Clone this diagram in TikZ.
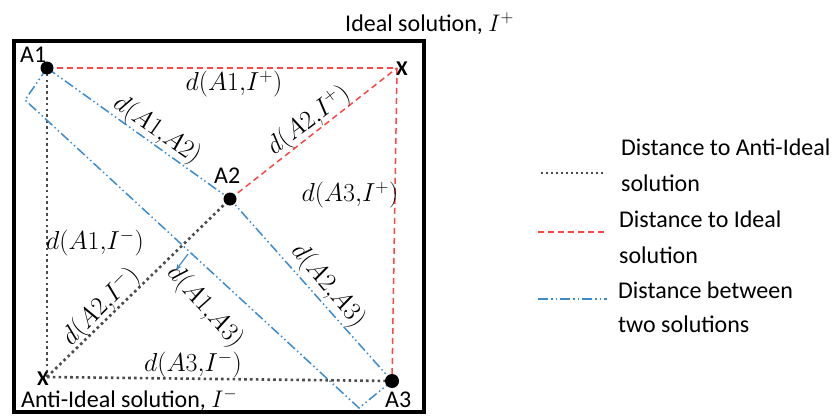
\RequirePackage{fix-cm}
\documentclass[tikz,border=0pt]{standalone}
\usepackage[no-math]{fontspec}
\setmainfont{Carlito}
\usetikzlibrary{arrows.meta}
\definecolor{idealred}{RGB}{255,70,70}
\definecolor{pairblue}{RGB}{60,140,205}
\definecolor{antigray}{RGB}{75,75,75}
\begin{document}
\begin{tikzpicture}[x=1pt,y=-1pt,
 lbl/.style={font=\fontsize{24}{28}\selectfont, inner sep=0pt, text=black},
 mlab/.style={font=\fontsize{26}{28}\selectfont, inner sep=0pt, text=black},
 idealline/.style={idealred, line width=1.5pt, dash pattern=on 6pt off 4pt},
 antiline/.style={antigray, line width=2.6pt, dash pattern=on 2.6pt off 3.2pt},
 pairline/.style={pairblue, line width=1.5pt, dash pattern=on 10pt off 3pt on 1.5pt off 3pt on 1.5pt off 3pt},
 altdot/.style={circle, fill=black, inner sep=0pt, minimum size=13pt},
 xmark/.style={font=\fontsize{21}{22}\selectfont\bfseries, inner sep=0pt},
]
\useasboundingbox (0,0) rectangle (838,415);
% frame
\draw[line width=4pt] (13.5,40.5) rectangle (424,411.5);
% points
\coordinate (p1) at (47,68);
\coordinate (p2) at (230,199);
\coordinate (p3) at (392,381);
\coordinate (ip) at (397,68);
\coordinate (im) at (47,377);
\coordinate (b1) at (25,100);
\coordinate (b2) at (359,408);
\coordinate (arrS) at (188,254);
\coordinate (arrE) at (176,270);
% distances to ideal
\draw[idealline] (p1) -- (ip);
\draw[idealline] (p2) -- (ip);
\draw[idealline] (ip) -- (p3);
% distances to anti-ideal
\draw[antiline] (p1) -- (im);
\draw[antiline] (im) -- (p3);
\draw[antiline] (im) -- (p2);
% distances between solutions
\draw[pairline] (p1) -- (p2) -- (p3);
\draw[pairline] (p1) -- (b1) -- (b2) -- (p3);
\draw[pairblue, line width=1.2pt, -{Stealth[length=6pt,width=5pt]}] (arrS) -- (arrE);
% alternatives
\node[altdot] (a1) at (p1) {};
\node[altdot] (a2) at (p2) {};
\node[altdot, minimum size=14pt] (a3) at (p3) {};
\node[xmark] (ipx) at (402,69) {X};
\node[xmark] (imx) at (43,379) {X};
% point labels
\node[lbl, anchor=base west] (ta1) at (20,62) {A1};
\node[lbl, anchor=base west] (ta2) at (214,183) {A2};
\node[lbl, anchor=base west] (ta3) at (385,407) {A3};
\node[lbl, anchor=base west] (tideal) at (345,31.5) {Ideal solution, $I^+$};
\node[lbl, anchor=base west] (tanti) at (21,407) {Anti-Ideal solution, $I^-$};
% distance labels
\node[mlab] (d1) at (234,84) {$d(A1{,}I^+)$};
\node[mlab, rotate=-35] (d2) at (157,130) {$d(A1{,}A2)$};
\node[mlab, rotate=37] (d3) at (309,121) {$d(A2{,}I^+)$};
\node[mlab] (d4) at (350,195) {$d(A3{,}I^+)$};
\node[mlab] (d5) at (95,243) {$d(A1{,}I^-)$};
\node[mlab, rotate=45] (d6) at (101,307) {$d(A2{,}I^-)$};
\node[mlab, rotate=-48] (d7) at (205,307) {$d(A1{,}A3)$};
\node[mlab, rotate=-50] (d8) at (328,286) {$d(A2{,}A3)$};
\node[mlab] (d9) at (193,365) {$d(A3{,}I^-)$};
% legend
\coordinate (k1s) at (541,173); \coordinate (k1e) at (606,173);
\coordinate (k2s) at (538,232); \coordinate (k2e) at (605,232);
\coordinate (k3s) at (538,299); \coordinate (k3e) at (607,299);
\draw[antiline, line width=2pt, dash pattern=on 2pt off 3pt] (k1s) -- (k1e);
\draw[idealline] (k2s) -- (k2e);
\draw[pairline] (k3s) -- (k3e);
\node[lbl, anchor=base west] (g1a) at (621,155) {Distance to Anti-Ideal};
\node[lbl, anchor=base west] (g1b) at (621,191) {solution};
\node[lbl, anchor=base west] (g2a) at (619,227) {Distance to Ideal};
\node[lbl, anchor=base west] (g2b) at (619,263) {solution};
\node[lbl, anchor=base west] (g3a) at (618,298) {Distance between};
\node[lbl, anchor=base west] (g3b) at (618,332) {two solutions};
\end{tikzpicture}
\end{document}
